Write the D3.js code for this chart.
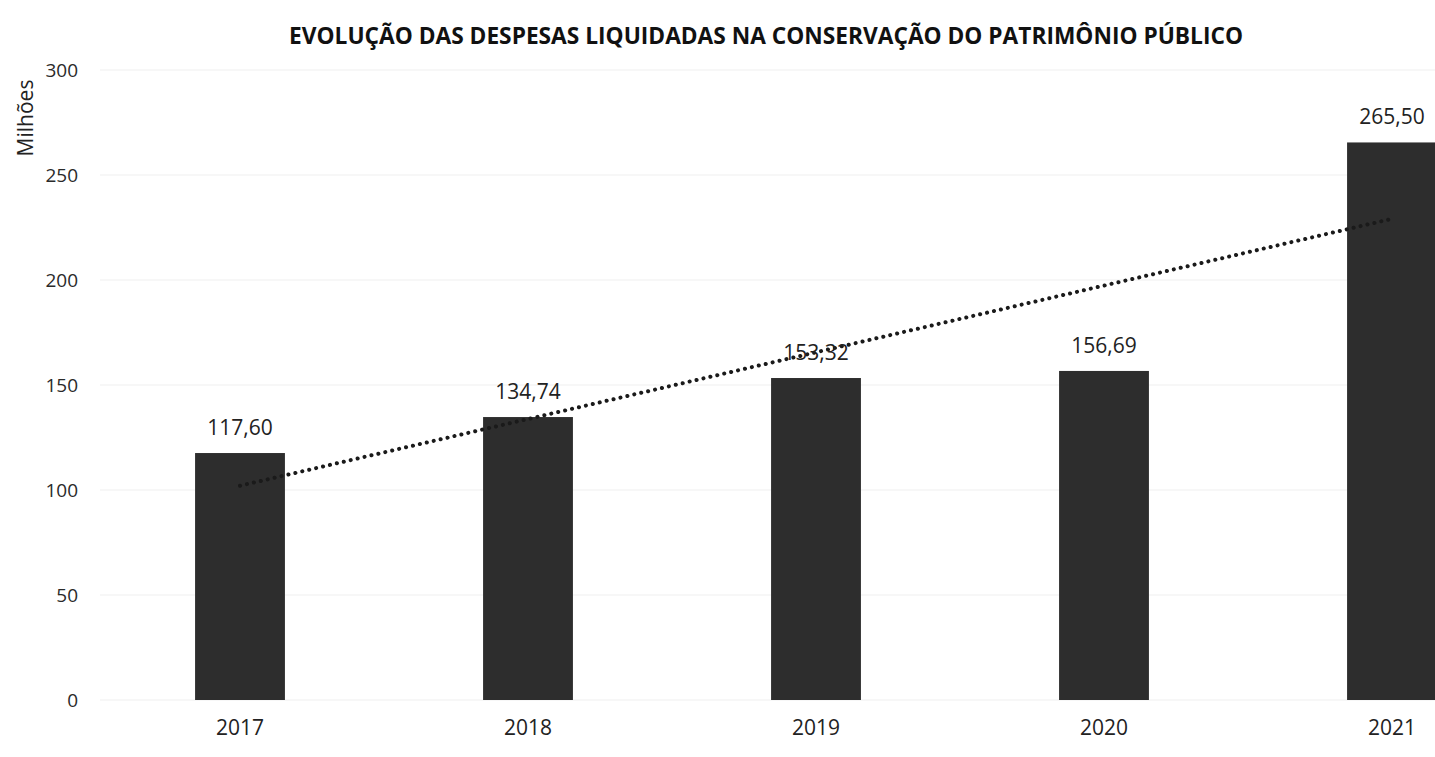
<!DOCTYPE html>
<html><head><meta charset="utf-8">
<script src="https://cdn.jsdelivr.net/npm/d3@7"></script>
<style>body{margin:0;background:#fff;} svg{display:block;}</style>
</head><body>
<script>
const categories = ["2017","2018","2019","2020","2021"];
const values = [117.60, 134.74, 153.32, 156.69, 265.50];
const valueLabels = ["117,60","134,74","153,32","156,69","265,50"];
const yTicks = [0,50,100,150,200,250,300];
const title = "EVOLUÇÃO DAS DESPESAS LIQUIDADAS NA CONSERVAÇÃO DO PATRIMÔNIO PÚBLICO";
const yTitle = "Milhões";

const W = 1435, H = 757;
const svg = d3.select("body").append("svg").attr("width", W).attr("height", H);
const font = "'Open Sans', 'Noto Sans', sans-serif";

const x = d3.scaleBand().domain(categories).range([96, 1536]).paddingInner(0.688).paddingOuter(0.344);
const y = d3.scaleLinear().domain([0,300]).range([700, 70]);

// gridlines
svg.append("g").selectAll("line").data(yTicks).join("line")
  .attr("x1", 100).attr("x2", W).attr("y1", d=>y(d)).attr("y2", d=>y(d))
  .attr("stroke", "#efefef").attr("stroke-width", 1);

// y axis
const yAxis = svg.append("g").attr("transform", "translate(96,0)")
  .call(d3.axisLeft(y).tickValues(yTicks).tickSize(0).tickPadding(18));
yAxis.select(".domain").remove();
yAxis.selectAll("text").attr("font-family", font).attr("font-size", 19).attr("fill", "#2a2a2a");

// x axis
const xAxis = svg.append("g").attr("transform", "translate(0,712)")
  .call(d3.axisBottom(x).tickSize(0).tickPadding(8));
xAxis.select(".domain").remove();
xAxis.selectAll("text").attr("font-family", font).attr("font-size", 21).attr("fill", "#222");

// bars
svg.append("g").selectAll("rect").data(values).join("rect")
  .attr("x", (d,i)=>x(categories[i])).attr("width", x.bandwidth())
  .attr("y", d=>y(d)).attr("height", d=>y(0)-y(d))
  .attr("fill", "#2d2d2d");

// linear trendline (least squares over category index)
const n = values.length;
const xs = values.map((d,i)=>i+1);
const mx = d3.mean(xs), my = d3.mean(values);
const slope = d3.sum(xs.map((xi,i)=>(xi-mx)*(values[i]-my))) / d3.sum(xs.map(xi=>(xi-mx)**2));
const icpt = my - slope*mx;
const cx = c => x(c) + x.bandwidth()/2;
svg.append("line")
  .attr("x1", cx(categories[0])).attr("y1", y(icpt + slope*1))
  .attr("x2", cx(categories[n-1])).attr("y2", y(icpt + slope*n))
  .attr("stroke", "#1a1a1a").attr("stroke-width", 4)
  .attr("stroke-dasharray", "0.1 7").attr("stroke-linecap", "round");

// value labels
svg.append("g").selectAll("text").data(values).join("text")
  .attr("x", (d,i)=>cx(categories[i])).attr("y", d=>y(d)-18)
  .attr("text-anchor", "middle").attr("font-family", font).attr("font-size", 21).attr("fill", "#222")
  .text((d,i)=>valueLabels[i]);

// title
svg.append("text").attr("x", 766).attr("y", 44).attr("text-anchor", "middle")
  .attr("font-family", font).attr("font-weight", "bold").attr("font-size", 23).attr("fill", "#111")
  .attr("textLength", 954).attr("lengthAdjust", "spacingAndGlyphs")
  .text(title);

// y title
svg.append("text").attr("transform", "translate(33,118) rotate(-90)").attr("text-anchor", "middle")
  .attr("font-family", font).attr("font-size", 21).attr("fill", "#222").text(yTitle);
</script>
</body></html>
